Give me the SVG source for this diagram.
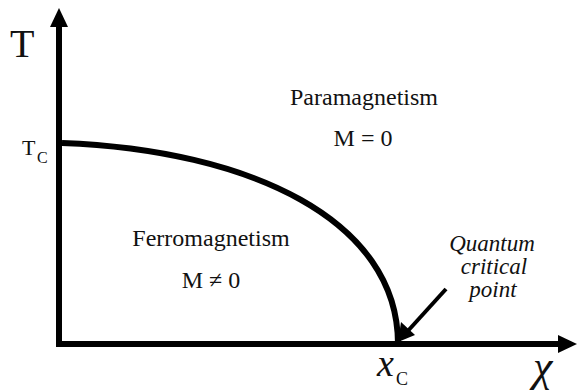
<svg xmlns="http://www.w3.org/2000/svg" width="577" height="391" viewBox="0 0 577 391">
<style>
.t{font-family:"Liberation Serif","Times New Roman",Times,"Tinos","DejaVu Serif","Noto Serif",serif;fill:#111}
.ax{stroke:#000;stroke-width:6;fill:none}
</style>
<rect width="577" height="391" fill="#fff"/>
<g id="connectors">
<path class="ax" d="M59,347 V22"/>
<path d="M50,27 L59,8 L68,27 Z" fill="#000"/>
<path class="ax" d="M56,344 H562"/>
<path d="M558,335 L577,344 L558,353 Z" fill="#000"/>
<path class="ax" d="M62,143 C250,150 398,220 398,344"/>
<path d="M446,289 L406,333" stroke="#000" stroke-width="4" fill="none"/>
<path d="M398,342 L401,322 L415,335 Z" fill="#000"/>
</g>
<g id="labels">
<text class="t" x="10" y="57" font-size="40">T</text>
<text class="t" x="22" y="155" font-size="22">T</text>
<text class="t" x="37" y="163" font-size="16">C</text>
<text class="t" x="364" y="105" font-size="24" text-anchor="middle">Paramagnetism</text>
<text class="t" x="363" y="146" font-size="24" text-anchor="middle">M = 0</text>
<text class="t" x="211" y="246" font-size="24" text-anchor="middle">Ferromagnetism</text>
<text class="t" x="211" y="288" font-size="24" text-anchor="middle">M ≠ 0</text>
<text class="t" x="492" y="251" font-size="23" font-style="italic" text-anchor="middle">Quantum</text>
<text class="t" x="494" y="274" font-size="23" font-style="italic" text-anchor="middle">critical</text>
<text class="t" x="493" y="297" font-size="23" font-style="italic" text-anchor="middle">point</text>
<text class="t" x="377" y="376" font-size="38" font-style="italic">x</text>
<text class="t" x="396" y="385" font-size="18">C</text>
<text class="t" x="533" y="381" font-size="44" font-style="italic">χ</text>
</g>
</svg>
